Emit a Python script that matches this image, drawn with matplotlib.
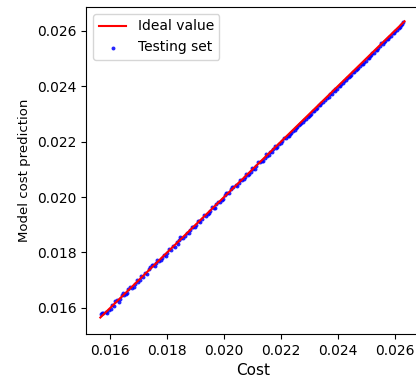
import numpy as np
import matplotlib
matplotlib.use("Agg")
import matplotlib.pyplot as plt

# testing set: actual cost vs model prediction
cost = [0.01568, 0.01575, 0.01584, 0.01597, 0.01605, 0.01612, 0.01624, 0.01633, 0.01641, 0.01650,
        0.01659, 0.01664, 0.01676, 0.01688, 0.01695, 0.01703, 0.01716, 0.01722, 0.01735, 0.01741,
        0.01752, 0.01760, 0.01771, 0.01783, 0.01790, 0.01801, 0.01812, 0.01820, 0.01833, 0.01841,
        0.01850, 0.01863, 0.01871, 0.01882, 0.01890, 0.01903, 0.01911, 0.01922, 0.01935, 0.01942,
        0.01951, 0.01964, 0.01972, 0.01985, 0.01993, 0.02004, 0.02012, 0.02025, 0.02033, 0.02041,
        0.02054, 0.02062, 0.02075, 0.02083, 0.02094, 0.02102, 0.02113, 0.02125, 0.02132, 0.02144,
        0.02153, 0.02161, 0.02174, 0.02182, 0.02193, 0.02205, 0.02212, 0.02224, 0.02231, 0.02243,
        0.02252, 0.02264, 0.02271, 0.02283, 0.02294, 0.02301, 0.02313, 0.02322, 0.02334, 0.02342,
        0.02355, 0.02361, 0.02374, 0.02385, 0.02392, 0.02404, 0.02413, 0.02421, 0.02434, 0.02442,
        0.02455, 0.02463, 0.02471, 0.02484, 0.02492, 0.02505, 0.02513, 0.02522, 0.02534, 0.02541,
        0.02553, 0.02562, 0.02574, 0.02582, 0.02595, 0.02603, 0.02614, 0.02622, 0.02631,
        0.01572, 0.01590, 0.01601, 0.01618, 0.01629, 0.01645, 0.01655, 0.01670, 0.01682, 0.01699,
        0.01709, 0.01728, 0.01745, 0.01756, 0.01766, 0.01777, 0.01795, 0.01806, 0.01826, 0.01837,
        0.01846, 0.01857, 0.01876, 0.01886, 0.01897, 0.01907, 0.01917, 0.01929, 0.01947, 0.01958,
        0.01968, 0.01979, 0.01998, 0.02008, 0.02019, 0.02029, 0.02047, 0.02058, 0.02069, 0.02079,
        0.02089, 0.02098, 0.02108, 0.02119, 0.02138, 0.02149, 0.02157, 0.02168, 0.02178, 0.02188,
        0.02199, 0.02218, 0.02228, 0.02237, 0.02248, 0.02258, 0.02268, 0.02277, 0.02288, 0.02298,
        0.02307, 0.02318, 0.02328, 0.02338, 0.02348, 0.02368, 0.02379, 0.02389, 0.02398, 0.02409,
        0.02417, 0.02428, 0.02438, 0.02448, 0.02459, 0.02467, 0.02478, 0.02488, 0.02498, 0.02509,
        0.02518, 0.02528, 0.02538, 0.02548, 0.02558, 0.02568, 0.02578, 0.02588, 0.02599, 0.02608,
        0.02618, 0.02627]
predicted = [0.01579, 0.01581, 0.01586, 0.01594, 0.01609, 0.01608, 0.01627, 0.01631, 0.01646, 0.01648,
             0.01655, 0.01667, 0.01673, 0.01686, 0.01699, 0.01701, 0.01713, 0.01726, 0.01740, 0.01746,
             0.01756, 0.01762, 0.01768, 0.01780, 0.01792, 0.01799, 0.01810, 0.01824, 0.01838, 0.01846,
             0.01851, 0.01861, 0.01869, 0.01880, 0.01893, 0.01900, 0.01914, 0.01921, 0.01932, 0.01940,
             0.01949, 0.01962, 0.01975, 0.01983, 0.01990, 0.02006, 0.02015, 0.02028, 0.02036, 0.02043,
             0.02052, 0.02060, 0.02073, 0.02081, 0.02092, 0.02100, 0.02114, 0.02126, 0.02129, 0.02141,
             0.02150, 0.02163, 0.02172, 0.02179, 0.02190, 0.02203, 0.02214, 0.02221, 0.02228, 0.02240,
             0.02249, 0.02261, 0.02268, 0.02280, 0.02291, 0.02298, 0.02310, 0.02319, 0.02331, 0.02339,
             0.02352, 0.02358, 0.02371, 0.02382, 0.02389, 0.02401, 0.02410, 0.02418, 0.02431, 0.02439,
             0.02452, 0.02460, 0.02468, 0.02481, 0.02489, 0.02502, 0.02510, 0.02519, 0.02531, 0.02538,
             0.02556, 0.02559, 0.02571, 0.02579, 0.02592, 0.02600, 0.02611, 0.02620, 0.02632,
             0.01580, 0.01583, 0.01596, 0.01625, 0.01622, 0.01652, 0.01649, 0.01677, 0.01676, 0.01693,
             0.01716, 0.01722, 0.01755, 0.01750, 0.01773, 0.01771, 0.01789, 0.01813, 0.01819, 0.01832,
             0.01855, 0.01851, 0.01870, 0.01892, 0.01891, 0.01912, 0.01911, 0.01935, 0.01941, 0.01963,
             0.01962, 0.01984, 0.01993, 0.02013, 0.02014, 0.02035, 0.02041, 0.02063, 0.02064, 0.02085,
             0.02083, 0.02104, 0.02102, 0.02125, 0.02132, 0.02154, 0.02151, 0.02163, 0.02184, 0.02182,
             0.02194, 0.02213, 0.02222, 0.02232, 0.02242, 0.02252, 0.02263, 0.02271, 0.02282, 0.02292,
             0.02301, 0.02312, 0.02322, 0.02332, 0.02342, 0.02362, 0.02373, 0.02383, 0.02392, 0.02403,
             0.02411, 0.02422, 0.02432, 0.02442, 0.02453, 0.02461, 0.02472, 0.02482, 0.02492, 0.02503,
             0.02512, 0.02522, 0.02532, 0.02546, 0.02553, 0.02563, 0.02572, 0.02583, 0.02594, 0.02604,
             0.02614, 0.02625]
ideal = [0.01565, 0.02635]

fig = plt.figure(figsize=(4.16, 3.82), dpi=100)
ax = fig.add_axes([0.207, 0.126, 0.803, 0.856])
ax.plot(ideal, ideal, color="red", lw=1.5, label="Ideal value", zorder=3)
ax.scatter(cost, predicted, s=8, color="blue", alpha=0.85, lw=0, label="Testing set", zorder=2)
ax.set_xlim(0.01515, 0.02690)
ax.set_ylim(0.01506, 0.02687)
ax.set_xticks(np.arange(0.016, 0.0261, 0.002))
ax.set_yticks(np.arange(0.016, 0.0261, 0.002))
ax.xaxis.set_major_formatter(matplotlib.ticker.FormatStrFormatter("%.3f"))
ax.yaxis.set_major_formatter(matplotlib.ticker.FormatStrFormatter("%.3f"))
ax.tick_params(labelsize=10)
ax.set_xlabel("Cost", fontsize=11)
ax.set_ylabel("Model cost prediction", fontsize=9.5)
ax.legend(loc="upper left", fontsize=10)
fig.savefig("out.png", dpi=100)
